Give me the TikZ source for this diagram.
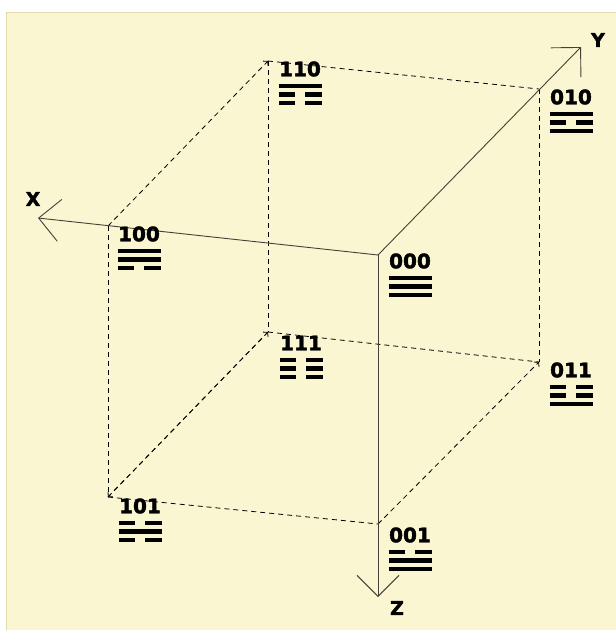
\documentclass[tikz,border=0pt]{standalone}
\usepackage{fontspec}
\newfontfamily\lblfont{DejaVu Sans}[BoldFeatures={FakeBold=2}]
\usepackage{tikz}
\usetikzlibrary{arrows.meta,calc}

\definecolor{cream}{RGB}{250,246,210}
\definecolor{creamline}{RGB}{226,220,172}
\definecolor{axisgray}{RGB}{70,64,54}

\newcommand{\trigram}[4]{%
  \foreach \d/\dy in {#2/34,#3/25.5,#4/17}{%
    \ifnum\d=0
      \draw[yao] ($(#1)+(-21.5,\dy)$) -- ($(#1)+(21.5,\dy)$);
    \else
      \draw[yao] ($(#1)+(-21.5,\dy)$) -- ($(#1)+(-5,\dy)$);
      \draw[yao] ($(#1)+(5,\dy)$) -- ($(#1)+(21.5,\dy)$);
    \fi
  }%
}

\begin{document}
\begin{tikzpicture}[
  x=1pt, y=-1pt,
  lbl/.style={font=\lblfont\bfseries\fontsize{20}{24}\selectfont, inner sep=0pt},
  axlbl/.style={font=\lblfont\bfseries\fontsize{19}{23}\selectfont, inner sep=0pt},
  yao/.style={line width=4.2pt, line cap=butt},
  axis/.style={draw=axisgray, line width=0.9pt, -{Straight Barb[length=21pt, width=42pt, line width=0.9pt]}},
  edge/.style={draw=black, line width=0.8pt, dash pattern=on 5pt off 4pt},
  tipped/.style={edge, -{Straight Barb[length=3pt, width=7pt, line width=0.8pt]}}
]
\useasboundingbox (0,0) rectangle (616,630);
\fill[white] (0,0) rectangle (616,630);
\filldraw[fill=cream, draw=creamline, line width=0.8pt] (6,12) rectangle (616,631);

\coordinate (v000) at (378,255);
\coordinate (v100) at (108,226);
\coordinate (v010) at (539,89);
\coordinate (v001) at (378,524);
\coordinate (v110) at (268,61);
\coordinate (v101) at (108,497);
\coordinate (v011) at (539,362);
\coordinate (v111) at (268,332);

\coordinate (xend) at (38,218);
\coordinate (yend) at (581,47);
\coordinate (zend) at (378,597);

\draw[edge] (v110) -- (v010);
\draw[edge] (v010) -- (v011);
\draw[edge] (v100) -- (v101);
\draw[edge] (v110) -- (v111);
\draw[edge] (v111) -- (v011);
\draw[edge] (v101) -- (v001);
\draw[tipped] (v100) -- (v110);
\draw[tipped] (v001) -- (v011);
\draw[tipped] (v101) -- (v111);
\draw[tipped] (v111) -- (v101);

\draw[axis] (v000) -- (xend);
\draw[axis] (v000) -- (yend);
\draw[axis] (v000) -- (zend);

\node[axlbl] (X) at (33,199) {X};
\node[axlbl] (Y) at (598,40) {Y};
\node[axlbl] (Z) at (397,608) {Z};

\node[lbl] (l000) at (410,261) {000};
\node[lbl] (l100) at (139,234) {100};
\node[lbl] (l010) at (571,97) {010};
\node[lbl] (l001) at (410,535) {001};
\node[lbl] (l110) at (300,69) {110};
\node[lbl] (l101) at (140,506) {101};
\node[lbl] (l011) at (571,370) {011};
\node[lbl] (l111) at (301,343) {111};

\trigram{l000}{0}{0}{0}
\trigram{l100}{1}{0}{0}
\trigram{l010}{0}{1}{0}
\trigram{l001}{0}{0}{1}
\trigram{l110}{1}{1}{0}
\trigram{l101}{1}{0}{1}
\trigram{l011}{0}{1}{1}
\trigram{l111}{1}{1}{1}
\end{tikzpicture}
\end{document}
